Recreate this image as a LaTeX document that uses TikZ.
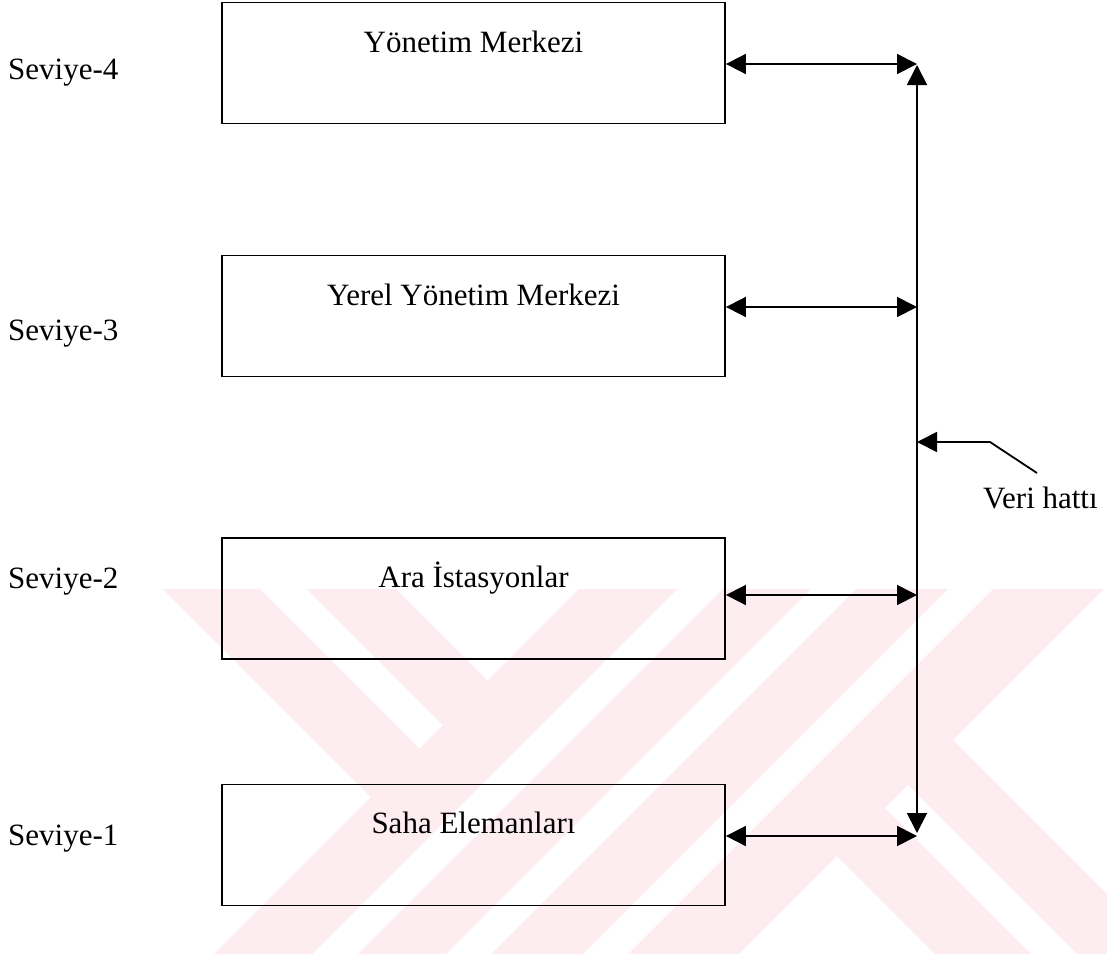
\documentclass[tikz,border=0pt]{standalone}
\usepackage{fontspec}
\setmainfont{Liberation Serif}
\usetikzlibrary{arrows.meta}
\definecolor{wm}{RGB}{253,236,240}
\begin{document}
\begin{tikzpicture}[x=1pt,y=-1pt,
  box/.style={draw, line width=1.8pt, minimum width=503pt, minimum height=121pt, inner sep=0pt},
  lbl/.style={font=\fontsize{31}{36}\selectfont, inner sep=0pt},
  tip/.style={Triangle[length=20pt,width=20pt]},
  conn/.style={line width=1.8pt, {Triangle[length=20pt,width=20pt]}-{Triangle[length=20pt,width=20pt]}},
  lead/.style={line width=1.8pt, -{Triangle[length=20pt,width=20pt]}}]
\useasboundingbox (0,0) rectangle (1107,956);
% watermark
\begin{scope}
\clip (163,589) rectangle (1107,953);
\fill[wm] (-213,213) -- (387,813) -- (435.5,764.5) -- (-164.5,164.5) -- cycle;
\fill[wm] (-141,141) -- (459,741) -- (503.5,696.5) -- (-96.5,96.5) -- cycle;
\fill[wm] (-166,1334) -- (-117,1383) -- (1383,-117) -- (1334,-166) -- cycle;
\fill[wm] (-94,1406) -- (-50,1450) -- (1450,-50) -- (1406,-94) -- cycle;
\fill[wm] (-27.5,1472.5) -- (18.5,1518.5) -- (1518.5,18.5) -- (1472.5,-27.5) -- cycle;
\fill[wm] (41,1541) -- (96.5,1596.5) -- (1596.5,96.5) -- (1541,41) -- cycle;
\fill[wm] (820.5,839.5) -- (1490.5,1509.5) -- (1538.5,1461.5) -- (868.5,791.5) -- cycle;
\fill[wm] (891.5,768.5) -- (1561.5,1438.5) -- (1606.5,1393.5) -- (936.5,723.5) -- cycle;
\end{scope}
% boxes
\node[box] (b4) at (473.5,63) {};
\node[box] (b3) at (473.5,316) {};
\node[box] (b2) at (473.5,598.5) {};
\node[box] (b1) at (473.5,845) {};
\node[lbl, anchor=base] (t4) at (473.5,52) {Yönetim Merkezi};
\node[lbl, anchor=base] (t3) at (473.5,305) {Yerel Yönetim Merkezi};
\node[lbl, anchor=base] (t2) at (473.5,587) {Ara İstasyonlar};
\node[lbl, anchor=base] (t1) at (473.5,833) {Saha Elemanları};
% level labels
\node[lbl, anchor=base west] (s4) at (8,79) {Seviye-4};
\node[lbl, anchor=base west] (s3) at (8,340) {Seviye-3};
\node[lbl, anchor=base west] (s2) at (8,588) {Seviye-2};
\node[lbl, anchor=base west] (s1) at (8,845) {Seviye-1};
% bus
\coordinate (bt) at (917,65);
\coordinate (bb) at (917,833);
\coordinate (p4) at (917,64);
\coordinate (p3) at (917,307);
\coordinate (p2) at (917,595);
\coordinate (p1) at (917,836);
\draw[conn] (bt) -- (bb);
\draw[conn] (b4.east |- p4) -- (p4);
\draw[conn] (b3.east |- p3) -- (p3);
\draw[conn] (b2.east |- p2) -- (p2);
\draw[conn] (b1.east |- p1) -- (p1);
% data line label
\node[lbl, anchor=base west] (veri) at (983,508) {Veri hattı};
\coordinate (vb) at (917,442);
\coordinate (vk) at (990,442);
\coordinate (ve) at (1037,473);
\draw[lead] (ve) -- (vk) -- (vb);
\end{tikzpicture}
\end{document}
